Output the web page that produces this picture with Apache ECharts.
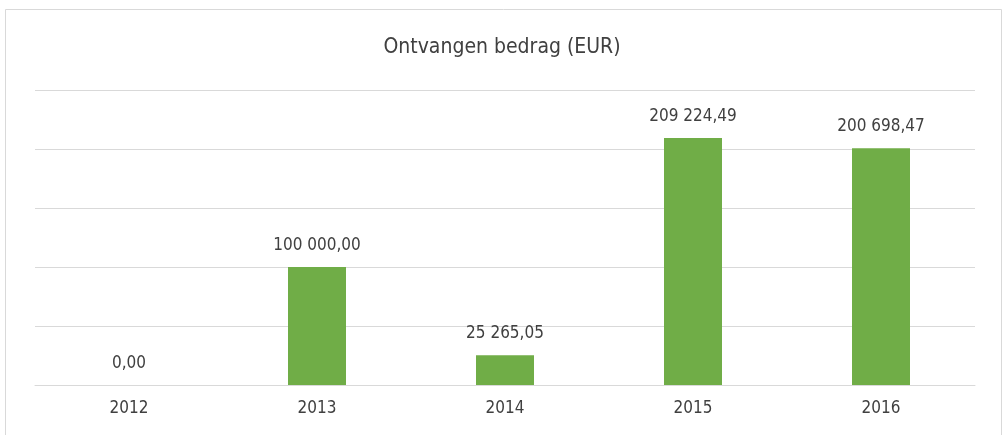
<!DOCTYPE html>
<html>
<head>
<meta charset="utf-8">
<script src="https://cdn.jsdelivr.net/npm/echarts@6/dist/echarts.min.js"></script>
<style>
  html, body { margin: 0; padding: 0; background: #fff; }
  #chart { width: 1004px; height: 435px; }
</style>
</head>
<body>
<div id="chart"></div>
<script>
const years = ['2012', '2013', '2014', '2015', '2016']
const amounts = [0, 100000, 25265.05, 209224.49, 200698.47]
const yTicks = { min: 0, max: 250000, interval: 50000 }

const font = '"Liberation Sans Narrow", "DejaVu Sans Condensed", "Roboto", sans-serif'

// 209224.49 -> "209 224,49"
function fmt(v) {
  const parts = v.toFixed(2).split('.')
  return parts[0].replace(/\B(?=(\d{3})+(?!\d))/g, ' ') + ',' + parts[1]
}

const chart = echarts.init(document.getElementById('chart'))
chart.setOption({
  backgroundColor: '#fff',
  animation: false,
  title: {
    text: 'Ontvangen bedrag (EUR)',
    left: 'center',
    top: 32,
    textStyle: { fontFamily: font, fontSize: 21, fontWeight: 500, color: '#404040' }
  },
  graphic: [{
    type: 'rect',
    shape: { x: 5.5, y: 9.5, width: 996, height: 440 },
    style: { fill: 'none', stroke: '#d9d9d9', lineWidth: 1 },
    silent: true
  }],
  grid: { left: 35, right: 29, top: 90, bottom: 50 },
  xAxis: {
    type: 'category',
    data: years,
    axisLine: { lineStyle: { color: '#d9d9d9', width: 1 } },
    axisTick: { show: false },
    axisLabel: { color: '#404040', fontFamily: font, fontSize: 17, margin: 15 }
  },
  yAxis: {
    type: 'value',
    min: yTicks.min,
    max: yTicks.max,
    interval: yTicks.interval,
    axisLabel: { show: false },
    axisLine: { show: false },
    axisTick: { show: false },
    splitLine: { lineStyle: { color: '#d9d9d9', width: 1 } }
  },
  series: [{
    type: 'bar',
    data: amounts,
    barWidth: 58,
    itemStyle: { color: '#70ad47' },
    label: {
      show: true,
      position: 'top',
      distance: 13,
      color: '#404040',
      fontFamily: font,
      fontSize: 17,
      formatter: p => fmt(p.value)
    }
  }]
})
</script>
</body>
</html>
